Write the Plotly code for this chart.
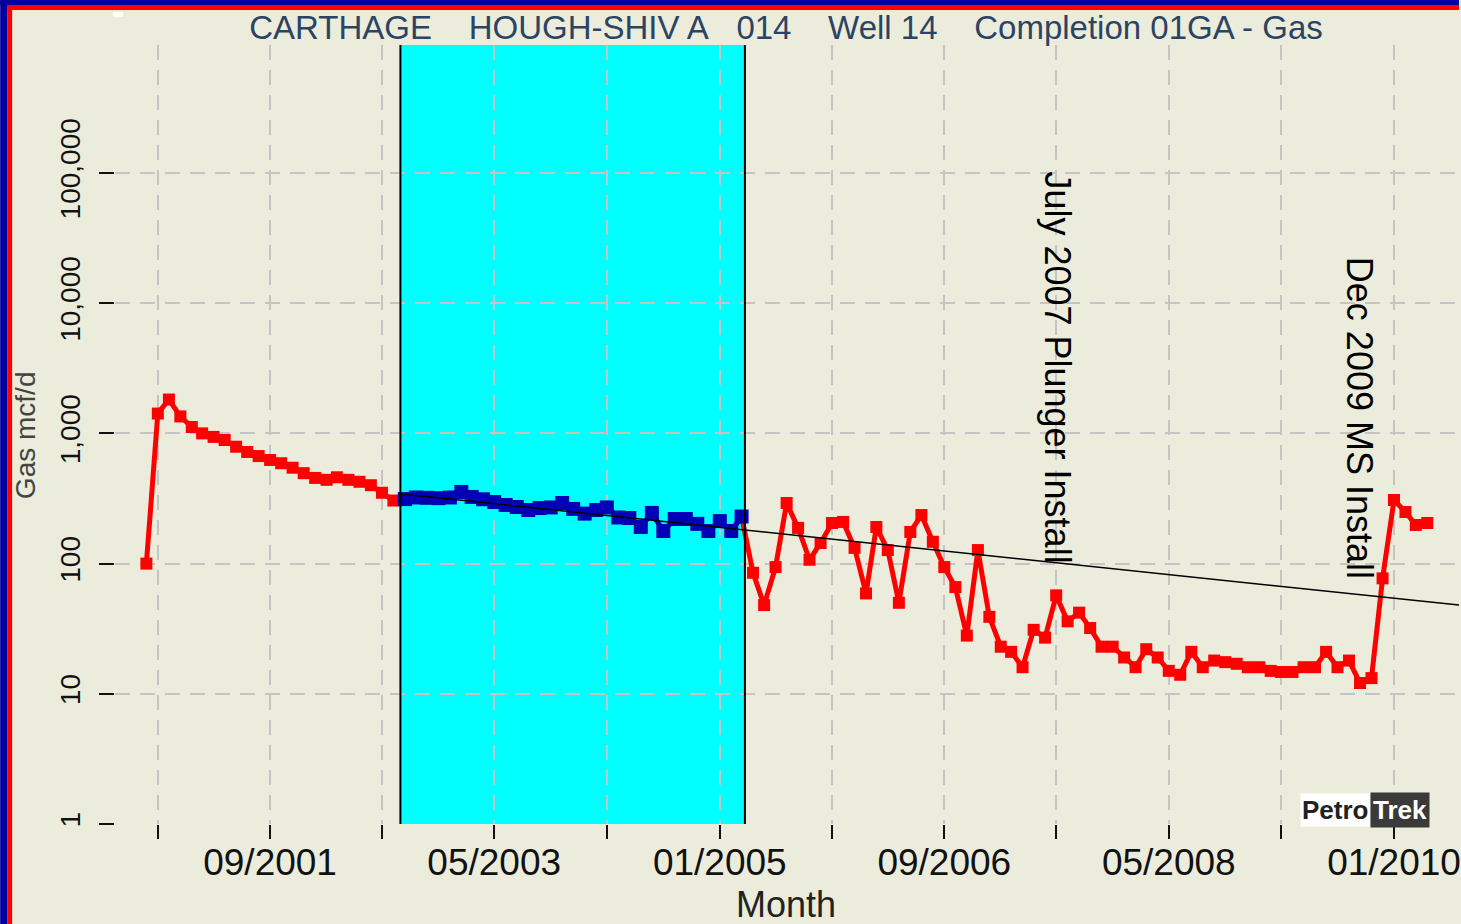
import pandas as pd
import plotly.graph_objects as go

# Monatsproduktion Gas (mcf/d), ab 10/2000
START_MONTH = "2000-10-01"
GAS_RATE = [
    100, 1420, 1820, 1350, 1120, 1000, 940, 890, 790, 720,
    670, 625, 590, 545, 495, 455, 440, 460, 440, 425,
    400, 350, 305, 313, 322, 320, 318, 322, 355, 325,
    312, 297, 282, 272, 258, 267, 270, 292, 263, 242,
    258, 270, 226, 224, 191, 245, 178, 220, 220, 202,
    178, 212, 178, 230, 85, 48, 94, 292, 188, 107,
    144, 205, 209, 132, 59, 191, 127, 50, 175, 236,
    147, 94, 66, 28, 127, 39, 23, 21, 16, 31,
    27, 57, 36, 42, 32, 23, 23, 19, 16, 22,
    19, 15, 14, 21, 16, 18, 17.5, 17, 16, 16,
    15, 14.7, 14.7, 16, 16, 21, 16, 18, 12.1, 13.2,
    77, 308, 249, 198, 205,
]

# Ausgewähltes Fenster (blau markiert, cyan hinterlegt)
FIT_FIRST_MONTH = "2002-09-01"
FIT_LAST_MONTH = "2005-03-01"
WINDOW_START = "2002-08-20"
WINDOW_END = "2005-03-10"

# Decline-Linie
DECLINE_DATES = ["2002-08-22", "2010-06-26"]
DECLINE_RATES = [343, 48]

X_RANGE = ["2000-07-08", "2010-06-26"]
X_TICKS = ["2000-11-01", "2001-09-01", "2002-07-01", "2003-05-01", "2004-03-01", "2005-01-01",
           "2005-11-01", "2006-09-01", "2007-07-01", "2008-05-01", "2009-03-01", "2010-01-01"]
X_TICK_TEXT = ["", "09/2001", "", "05/2003", "", "01/2005",
               "", "09/2006", "", "05/2008", "", "01/2010"]
Y_TICKS = [1, 10, 100, 1000, 10000, 100000]
Y_TICK_TEXT = ["1", "10", "100", "1,000", "10,000", "100,000"]

TITLE = ("CARTHAGE\u00a0\u00a0\u00a0\u00a0HOUGH-SHIV A\u00a0\u00a0\u00a0014\u00a0\u00a0\u00a0\u00a0"
         "Well 14\u00a0\u00a0\u00a0\u00a0Completion 01GA - Gas")
NOTES = ["July 2007 Plunger Install", "Dec 2009 MS Install"]

W, H = 1461, 924
ML, MR, MT, MB = 115, 0, 45, 100
BG = "#ECECDC"
FONT = "Arial, Liberation Sans, sans-serif"


def px(x):
    return (x - ML) / (W - ML - MR)


def py(y):
    return (H - MB - y) / (H - MT - MB)


months = pd.date_range(START_MONTH, periods=len(GAS_RATE), freq="MS")
df = pd.DataFrame({"month": months, "rate": GAS_RATE})
fit = df[(df["month"] >= FIT_FIRST_MONTH) & (df["month"] <= FIT_LAST_MONTH)]

fig = go.Figure()

fig.add_trace(go.Scatter(
    x=df["month"], y=df["rate"], mode="lines+markers",
    line=dict(color="#FF0000", width=5),
    marker=dict(symbol="square", size=12, color="#FF0000"),
    showlegend=False,
))
fig.add_trace(go.Scatter(
    x=fit["month"], y=fit["rate"], mode="lines+markers",
    line=dict(color="#0000B4", width=5),
    marker=dict(symbol="square", size=14, color="#0000B4"),
    showlegend=False,
))
fig.add_trace(go.Scatter(
    x=DECLINE_DATES, y=DECLINE_RATES, mode="lines",
    line=dict(color="black", width=1.5),
    showlegend=False,
))

# cyan Fenster
fig.add_shape(type="rect", xref="x", yref="paper", x0=WINDOW_START, x1=WINDOW_END,
              y0=0, y1=1, fillcolor="#00FFFF", line_width=0, layer="below")
for xd in (WINDOW_START, WINDOW_END):
    fig.add_shape(type="line", xref="x", yref="paper", x0=xd, x1=xd, y0=0, y1=1,
                  line=dict(color="black", width=2))

# Rahmen
shapes = [
    (0, 0, 7, H, "#00009E"),
    (0, 0, W, 5, "#00009E"),
    (7, 5, 12, H, "#FF0000"),
    (7, 5, W, 10, "#FF0000"),
    (113, 12, 123, 17, "white"),
]
for x0, y0, x1, y1, c in shapes:
    fig.add_shape(type="rect", xref="paper", yref="paper",
                  x0=px(x0), x1=px(x1), y0=py(y1), y1=py(y0),
                  fillcolor=c, line_width=0, layer="above")


def note(text, x, y, size, color, angle=0, **kw):
    fig.add_annotation(text=text, xref="paper", yref="paper", x=px(x), y=py(y),
                       xanchor=kw.pop("xanchor", "center"), yanchor="middle",
                       textangle=angle, showarrow=False,
                       font=dict(family=FONT, size=size, color=color), **kw)


# Vermerke
note(NOTES[0], 1058, 367, 36, "black", angle=90)
note(NOTES[1], 1362, 418, 36, "black", angle=90)

# Achsentitel
note("Gas mcf/d", 25, 435, 28, "#444444", angle=-90)
note("Month", 787, 905, 36, "#222222")

# PetroTrek Logo
note("<b>Petro</b>", 1372, 810, 26, "#222222", xanchor="right", bgcolor="white", borderpad=1)
note("<b>Trek</b>", 1372, 810, 26, "white", xanchor="left", bgcolor="#3A3A3A", borderpad=2)

fig.update_xaxes(
    type="date", range=X_RANGE, tickvals=X_TICKS, ticktext=X_TICK_TEXT,
    ticks="outside", ticklen=14, tickwidth=2, tickcolor="#111111",
    ticklabelstandoff=-8, ticklabeloverflow="allow",
    showgrid=True, gridcolor="#C4C4C4", gridwidth=2, griddash="15px,10px",
    showline=False, zeroline=False,
    tickfont=dict(family=FONT, size=37, color="#111111"),
)
fig.update_yaxes(
    type="log", range=[0, 5.983], tickvals=Y_TICKS, ticktext=Y_TICK_TEXT,
    tickangle=-90, ticks="outside", ticklen=15, tickwidth=2, tickcolor="#111111",
    ticklabelstandoff=8,
    showgrid=True, gridcolor="#C4C4C4", gridwidth=2, griddash="15px,10px",
    showline=False, zeroline=False,
    tickfont=dict(family=FONT, size=28, color="#111111"),
)

fig.update_layout(
    width=W, height=H,
    margin=dict(l=ML, r=MR, t=MT, b=MB),
    paper_bgcolor=BG, plot_bgcolor=BG,
    title=dict(text=TITLE, x=786 / W, xanchor="center", y=1 - 27 / H, yanchor="middle",
               font=dict(family=FONT, size=33, color="#2B4463")),
    showlegend=False,
)

fig.write_html("out.html", config={"displayModeBar": False},
               post_script="document.body.style.margin='0';")
